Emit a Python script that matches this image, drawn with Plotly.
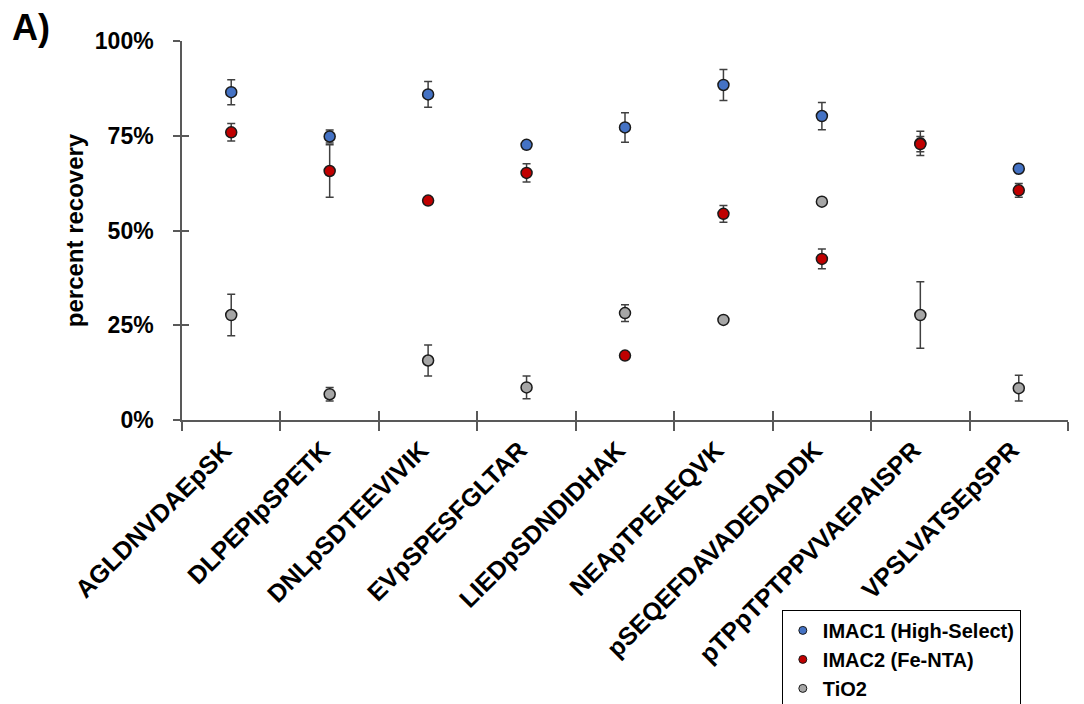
import plotly.graph_objects as go

peptides = ["AGLDNVDAEpSK", "DLPEPIpSPETK", "DNLpSDTEEVIVIK", "EVpSPESFGLTAR",
            "LIEDpSDNDIDHAK", "NEApTPEAEQVK", "pSEQEFDAVADEDADDK",
            "pTPpTPTPPVVAEPAISPR", "VPSLVATSEpSPR"]

imac1 = [86.5, 74.8, 85.9, 72.6, 77.2, 88.4, 80.2, 73.0, 66.3]
imac1_err = [3.3, 1.7, 3.4, 1.0, 3.9, 4.1, 3.6, 3.2, 0.0]
imac2 = [75.9, 65.7, 57.9, 65.2, 17.0, 54.4, 42.5, 72.8, 60.6]
imac2_err = [2.3, 6.9, 0.0, 2.4, 0.0, 2.2, 2.6, 2.0, 1.8]
tio2 = [27.7, 6.8, 15.7, 8.6, 28.2, 26.4, 57.6, 27.7, 8.4]
tio2_err = [5.5, 1.8, 4.1, 3.0, 2.2, 0.0, 0.0, 8.8, 3.4]

names = ["IMAC1 (High-Select)", "IMAC2 (Fe-NTA)", "TiO2"]
colors = ["#4472C4", "#C00000", "#A6A6A6"]
y_ticks = [0, 25, 50, 75, 100]
y_ticktext = ["0%", "25%", "50%", "75%", "100%"]

FONT = "Arial, 'Liberation Sans', sans-serif"
AX = "#595959"
ERR = "#404040"

fig = go.Figure()
series = [(imac1, imac1_err), (imac2, imac2_err), (tio2, tio2_err)]
for (vals, errs), name, col in zip(series, names, colors):
    fig.add_trace(go.Scatter(
        x=peptides, y=vals, mode="markers", name=name, showlegend=False,
        marker=dict(size=11, color=col, line=dict(color="#1a1a1a", width=1.5)),
        error_y=dict(type="data", array=errs, visible=True, color=ERR,
                     thickness=1.5, width=4),
    ))

# legend-only entries (smaller symbols, as in the reference)
for name, col in zip(names, colors):
    fig.add_trace(go.Scatter(
        x=[None], y=[None], mode="markers", name=name,
        marker=dict(size=8, color=col, line=dict(color="#1a1a1a", width=1)),
    ))

# overlay axes for the crossing (inside) half of the tick marks
n = len(peptides)
fig.add_trace(go.Scatter(x=[None], y=[None], xaxis="x2", yaxis="y2",
                         showlegend=False, hoverinfo="skip"))

fig.update_layout(
    width=1076, height=696,
    margin=dict(l=174, r=16, t=33, b=284, autoexpand=False),
    paper_bgcolor="white", plot_bgcolor="white",
    font=dict(family=FONT, color="black"),
    showlegend=True,
    legend=dict(
        x=0.677, xanchor="left", y=-0.501, yanchor="top",
        bordercolor="black", borderwidth=1, bgcolor="white",
        font=dict(size=20, family=FONT, color="black", weight="bold"),
        tracegroupgap=0, itemsizing="trace",
    ),
    xaxis=dict(
        type="category", categoryorder="array", categoryarray=peptides,
        range=[-0.5, n - 0.5], tickson="boundaries", automargin=False,
        showline=True, linecolor=AX, linewidth=1.5,
        ticks="outside", ticklen=9, tickwidth=1.5, tickcolor=AX,
        tickangle=-45, showgrid=False, zeroline=False,
        ticklabelstandoff=4, ticklabelshift=-7,
        tickfont=dict(size=25, family=FONT, color="black", weight="bold"),
    ),
    yaxis=dict(
        range=[0, 100], tickvals=y_ticks, ticktext=y_ticktext, automargin=False,
        showline=True, linecolor=AX, linewidth=1.5,
        ticks="outside", ticklen=7, tickwidth=1.5, tickcolor=AX,
        showgrid=False, zeroline=False, ticklabelstandoff=15,
        tickfont=dict(size=23, family=FONT, color="black", weight="bold"),
        title=dict(text="percent recovery", standoff=4,
                   font=dict(size=24, family=FONT, color="black", weight="bold")),
    ),
    xaxis2=dict(
        overlaying="x", anchor="y2", range=[-0.5, n - 0.5],
        tickvals=[i - 0.5 for i in range(n + 1)],
        ticks="inside", ticklen=9, tickwidth=1.5, tickcolor=AX,
        showticklabels=False, showgrid=False, zeroline=False, showline=False,
    ),
    yaxis2=dict(
        overlaying="y", anchor="x2", range=[0, 100], tickvals=y_ticks,
        ticks="inside", ticklen=7, tickwidth=1.5, tickcolor=AX,
        showticklabels=False, showgrid=False, zeroline=False, showline=False,
    ),
    annotations=[dict(
        text="A)", xref="paper", yref="paper", x=-0.194, y=1.035,
        xanchor="left", yanchor="middle", showarrow=False,
        font=dict(size=36, family=FONT, color="black", weight="bold"),
    )],
)

fig.write_html("out.html")
